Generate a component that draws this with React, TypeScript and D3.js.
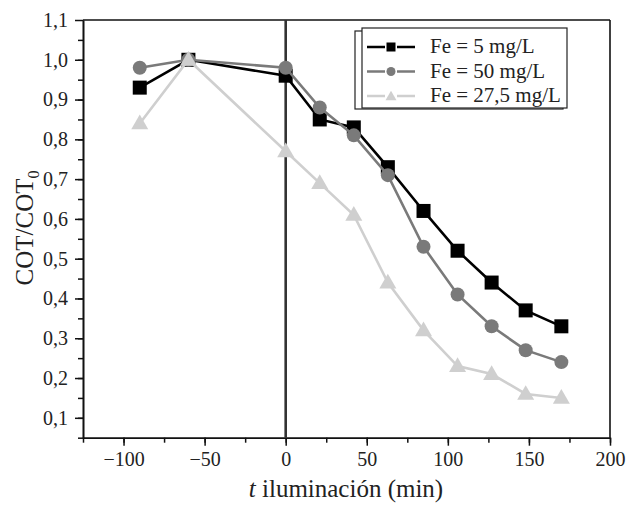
import React, { useEffect, useRef } from 'react';
import * as d3 from 'd3';

const tiempo = [-90, -60, 0, 21, 42, 63, 85, 106, 127, 148, 170];
const fe5 = [0.93, 1.0, 0.96, 0.85, 0.83, 0.73, 0.62, 0.52, 0.44, 0.37, 0.33];
const fe50 = [0.98, 1.0, 0.98, 0.88, 0.81, 0.71, 0.53, 0.41, 0.33, 0.27, 0.24];
const fe275 = [0.84, 1.0, 0.77, 0.69, 0.61, 0.44, 0.32, 0.23, 0.21, 0.16, 0.15];
const xTicks = [-100, -50, 0, 50, 100, 150, 200];
const yTicks = [0.1, 0.2, 0.3, 0.4, 0.5, 0.6, 0.7, 0.8, 0.9, 1.0, 1.1];

const series = [
  { name: 'Fe = 5 mg/L', values: fe5, color: '#000000', shape: 'square' },
  { name: 'Fe = 50 mg/L', values: fe50, color: '#7a7a7a', shape: 'circle' },
  { name: 'Fe = 27,5 mg/L', values: fe275, color: '#cfcfcf', shape: 'triangle' },
];

const W = 626;
const H = 506;
const FONT = "'Liberation Serif', 'DejaVu Serif', serif";

const App = () => {
  const ref = useRef<SVGSVGElement>(null);

  useEffect(() => {
    const svg = d3.select(ref.current);
    svg.selectAll('*').remove();

    const x = d3.scaleLinear().domain([-125, 200]).range([83, 610]);
    const y = d3.scaleLinear().domain([0.05, 1.1]).range([437.7, 20]);

    // marco
    svg.append('line').attr('x1', 83).attr('x2', 610).attr('y1', y(1.1)).attr('y2', y(1.1))
      .attr('stroke', '#111').attr('stroke-width', 1.6);
    svg.append('line').attr('x1', 610).attr('x2', 610).attr('y1', 20).attr('y2', 437.7)
      .attr('stroke', '#111').attr('stroke-width', 1.6);

    // ejes
    const xAxis = svg.append('g').attr('transform', 'translate(0,437.7)')
      .call(d3.axisBottom(x).tickValues(xTicks).tickSize(8).tickSizeOuter(0)
        .tickFormat(d => d3.format('d')(d as number).replace('-', '\u2212')));
    svg.append('g').attr('transform', 'translate(0,437.7)')
      .call(d3.axisBottom(x).tickValues(d3.range(-125, 201, 25)).tickSize(5).tickFormat(() => '').tickSizeOuter(0));

    const yAxis = svg.append('g').attr('transform', 'translate(83,0)')
      .call(d3.axisLeft(y).tickValues(yTicks).tickSize(8).tickSizeOuter(0)
        .tickFormat(d => d3.format('.1f')(d as number).replace('.', ',')));
    svg.append('g').attr('transform', 'translate(83,0)')
      .call(d3.axisLeft(y).tickValues(d3.range(0.05, 1.1, 0.05)).tickSize(5).tickFormat(() => '').tickSizeOuter(0));

    svg.selectAll('.domain').attr('stroke', '#111').attr('stroke-width', 1.6);
    svg.selectAll('.tick line').attr('stroke', '#111').attr('stroke-width', 1.5);
    xAxis.selectAll('text').style('font-family', FONT).style('font-size', '20px').attr('fill', '#222')
      .attr('y', 14).attr('dy', '0.71em');
    yAxis.selectAll('text').style('font-family', FONT).style('font-size', '20px').attr('fill', '#222')
      .attr('x', -15);

    // linea vertical en t = 0
    svg.append('line').attr('x1', x(0)).attr('x2', x(0)).attr('y1', 20).attr('y2', 437.7)
      .attr('stroke', '#333').attr('stroke-width', 2.6);

    const line = d3.line<number>().x((d, i) => x(tiempo[i])).y(d => y(d));

    const drawMarker = (g: any, shape: string, cx: number, cy: number, color: string, s: number) => {
      if (shape === 'square') {
        g.append('rect').attr('x', cx - s / 2).attr('y', cy - s / 2).attr('width', s).attr('height', s).attr('fill', color);
      } else if (shape === 'circle') {
        g.append('circle').attr('cx', cx).attr('cy', cy).attr('r', s / 2).attr('fill', color);
      } else {
        const sym = d3.symbol().type(d3.symbolTriangle).size(s * s * Math.sqrt(3) / 4)();
        g.append('path').attr('d', sym).attr('transform', `translate(${cx},${cy + 1})`).attr('fill', color);
      }
    };

    series.forEach(s => {
      const g = svg.append('g');
      g.append('path').datum(s.values).attr('d', line).attr('fill', 'none')
        .attr('stroke', s.color).attr('stroke-width', 2.6);
      s.values.forEach((v, i) => drawMarker(g, s.shape, x(tiempo[i]), y(v), s.color, s.shape === 'triangle' ? 17 : 14));
    });

    // leyenda
    svg.append('rect').attr('x', 355).attr('y', 31).attr('width', 208).attr('height', 78)
      .attr('fill', 'white').attr('stroke', '#222').attr('stroke-width', 1.2);
    svg.append('rect').attr('x', 362).attr('y', 28).attr('width', 205).attr('height', 80)
      .attr('fill', 'white').attr('stroke', '#222').attr('stroke-width', 1.2);
    series.forEach((s, i) => {
      const ly = 47 + i * 24.5;
      const g = svg.append('g');
      g.append('line').attr('x1', 367).attr('x2', 415).attr('y1', ly).attr('y2', ly)
        .attr('stroke', s.color).attr('stroke-width', 2.6);
      g.append('rect').attr('x', 385).attr('y', ly - 3).attr('width', 12).attr('height', 6).attr('fill', 'white');
      drawMarker(g, s.shape, 391, ly, s.color, s.shape === 'triangle' ? 11 : 9);
      g.append('text').attr('x', 430).attr('y', ly + 6).style('font-family', FONT).style('font-size', '21px')
        .attr('fill', '#222').text(s.name);
    });

    // titulos
    const xt = svg.append('text').attr('x', 346).attr('y', 497).attr('text-anchor', 'middle')
      .style('font-family', FONT).style('font-size', '25px').attr('fill', '#222');
    xt.append('tspan').attr('font-style', 'italic').text('t');
    xt.append('tspan').text(' iluminación (min)');

    const yt = svg.append('text').attr('transform', 'translate(33,228) rotate(-90)').attr('text-anchor', 'middle')
      .style('font-family', FONT).style('font-size', '25px').attr('fill', '#222');
    yt.append('tspan').text('COT/COT');
    yt.append('tspan').style('font-size', '16px').attr('dy', 6).text('0');
  }, []);

  return <svg ref={ref} width={W} height={H} style={{ position: 'absolute', left: 0, top: 0 }} />;
};

export default App;
